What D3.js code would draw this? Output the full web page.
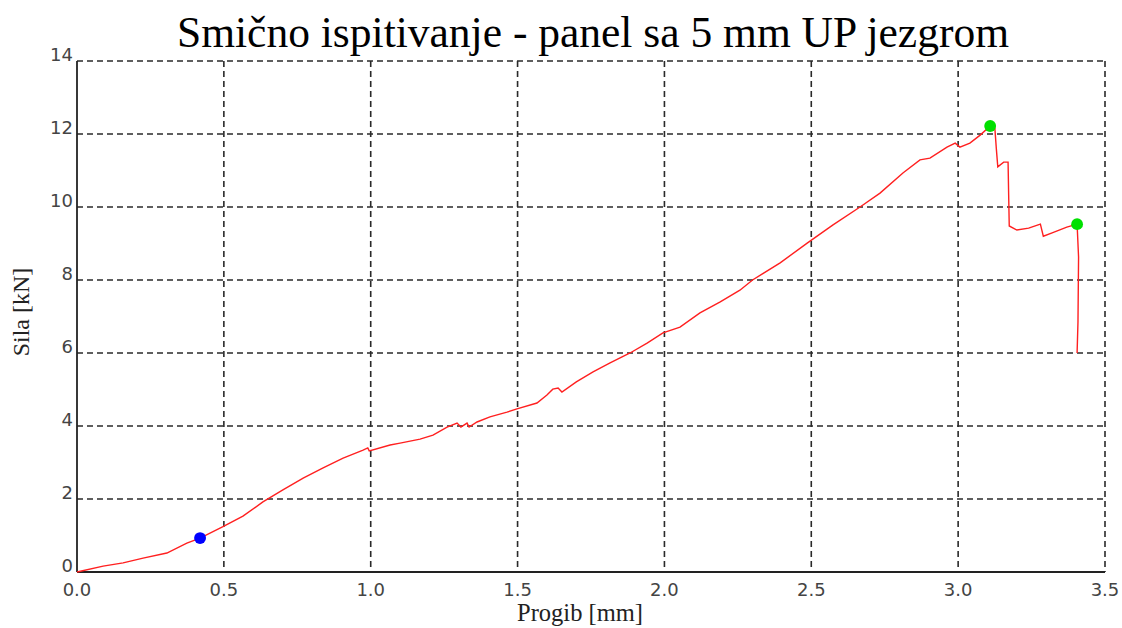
<!DOCTYPE html>
<html><head><meta charset="utf-8">
<script src="https://cdn.jsdelivr.net/npm/d3@7"></script>
<style>body{margin:0;background:#fff;} svg{display:block;}</style>
</head><body>
<svg id="c" width="1122" height="628"></svg>
<script>
const title = "Smično ispitivanje - panel sa 5 mm UP jezgrom";
const xLabel = "Progib [mm]";
const yLabel = "Sila [kN]";
const xTicks = [0, 0.5, 1.0, 1.5, 2.0, 2.5, 3.0, 3.5];
const yTicks = [0, 2, 4, 6, 8, 10, 12, 14];
const progib = [0, 0.089, 0.157, 0.225, 0.306, 0.374, 0.419, 0.497, 0.565, 0.633, 0.701, 0.77, 0.838, 0.906, 0.974, 0.99, 0.995, 1.066, 1.1, 1.168, 1.212, 1.26, 1.294, 1.307, 1.328, 1.335, 1.362, 1.406, 1.464, 1.498, 1.566, 1.60, 1.62, 1.638, 1.651, 1.70, 1.757, 1.815, 1.883, 1.941, 1.995, 2.053, 2.121, 2.19, 2.257, 2.30, 2.394, 2.486, 2.574, 2.666, 2.734, 2.812, 2.87, 2.904, 2.962, 2.99, 3.006, 3.04, 3.075, 3.109, 3.125, 3.13, 3.135, 3.155, 3.17, 3.172, 3.174, 3.2, 3.24, 3.28, 3.29, 3.32, 3.37, 3.405, 3.41, 3.408, 3.405];
const sila =   [0, 0.16, 0.25, 0.38, 0.52, 0.79, 0.93, 1.24, 1.53, 1.92, 2.25, 2.57, 2.85, 3.12, 3.34, 3.40, 3.32, 3.48, 3.53, 3.64, 3.75, 3.97, 4.08, 3.97, 4.08, 3.97, 4.11, 4.25, 4.38, 4.47, 4.63, 4.85, 5.01, 5.04, 4.93, 5.21, 5.48, 5.73, 6.0, 6.27, 6.55, 6.71, 7.10, 7.40, 7.72, 8.0, 8.47, 9.01, 9.51, 10.0, 10.38, 10.93, 11.29, 11.34, 11.64, 11.75, 11.64, 11.75, 11.97, 12.22, 12.16, 11.6, 11.1, 11.23, 11.23, 10.33, 9.48, 9.37, 9.42, 9.53, 9.2, 9.29, 9.45, 9.53, 8.63, 6.85, 6.0];
const blueX = [0.419], blueY = [0.93];
const greenX = [3.109, 3.405], greenY = [12.22, 9.53];

const svg = d3.select("#c");
const L = 77, R = 1105, T = 61, B = 572;
const x = d3.scaleLinear().domain([0, 3.5]).range([L, R]);
const y = d3.scaleLinear().domain([0, 14]).range([B, T]);

// grid
const g = svg.append("g");
g.selectAll("line.vx").data(xTicks.filter(d => d > 0)).join("line")
  .attr("x1", d => x(d)).attr("x2", d => x(d)).attr("y1", T).attr("y2", B)
  .attr("stroke", "#2a2a2a").attr("stroke-width", 1.6).attr("stroke-dasharray", "6,4");
g.selectAll("line.hy").data(yTicks.filter(d => d > 0)).join("line")
  .attr("y1", d => y(d)).attr("y2", d => y(d)).attr("x1", L).attr("x2", R)
  .attr("stroke", "#2a2a2a").attr("stroke-width", 1.6).attr("stroke-dasharray", "6,4");

// axes lines
svg.append("line").attr("x1", L).attr("x2", L).attr("y1", T).attr("y2", B).attr("stroke", "#222").attr("stroke-width", 1.8);
svg.append("line").attr("x1", L).attr("x2", R).attr("y1", B).attr("y2", B).attr("stroke", "#222").attr("stroke-width", 1.8);

// tick labels
svg.selectAll("text.yt").data(yTicks).join("text")
  .attr("x", L - 4).attr("y", d => y(d)).attr("text-anchor", "end")
  .attr("font-family", "DejaVu Sans, sans-serif").attr("font-size", 18).attr("fill", "#444")
  .text(d => d3.format("d")(d));
svg.selectAll("text.xt").data(xTicks).join("text")
  .attr("x", d => x(d)).attr("y", B + 24).attr("text-anchor", "middle")
  .attr("font-family", "DejaVu Sans, sans-serif").attr("font-size", 18).attr("fill", "#444")
  .text(d => d3.format(".1f")(d));

// titles
svg.append("text").attr("x", 593).attr("y", 47).attr("text-anchor", "middle")
  .attr("font-family", "Liberation Serif, Times New Roman, serif").attr("font-size", 43.5).attr("fill", "#000").text(title);
svg.append("text").attr("x", 580).attr("y", 621).attr("text-anchor", "middle")
  .attr("font-family", "Liberation Serif, serif").attr("font-size", 24.5).attr("fill", "#222").text(xLabel);
svg.append("text").attr("transform", "translate(29,312) rotate(-90)").attr("text-anchor", "middle")
  .attr("font-family", "Liberation Serif, serif").attr("font-size", 24).attr("fill", "#222").text(yLabel);

// line
const pts = progib.map((d, i) => [d, sila[i]]);
svg.append("path").datum(pts)
  .attr("d", d3.line().x(d => x(d[0])).y(d => y(d[1])))
  .attr("fill", "none").attr("stroke", "#ff2020").attr("stroke-width", 1.4);

// markers
const sym = d3.symbol().type(d3.symbolCircle).size(110);
svg.selectAll("path.b").data(blueX.map((d, i) => [d, blueY[i]])).join("path")
  .attr("d", sym).attr("transform", d => `translate(${x(d[0])},${y(d[1])})`).attr("fill", "#0000ff");
svg.selectAll("path.gm").data(greenX.map((d, i) => [d, greenY[i]])).join("path")
  .attr("d", sym).attr("transform", d => `translate(${x(d[0])},${y(d[1])})`).attr("fill", "#00e000");
</script>
</body></html>
